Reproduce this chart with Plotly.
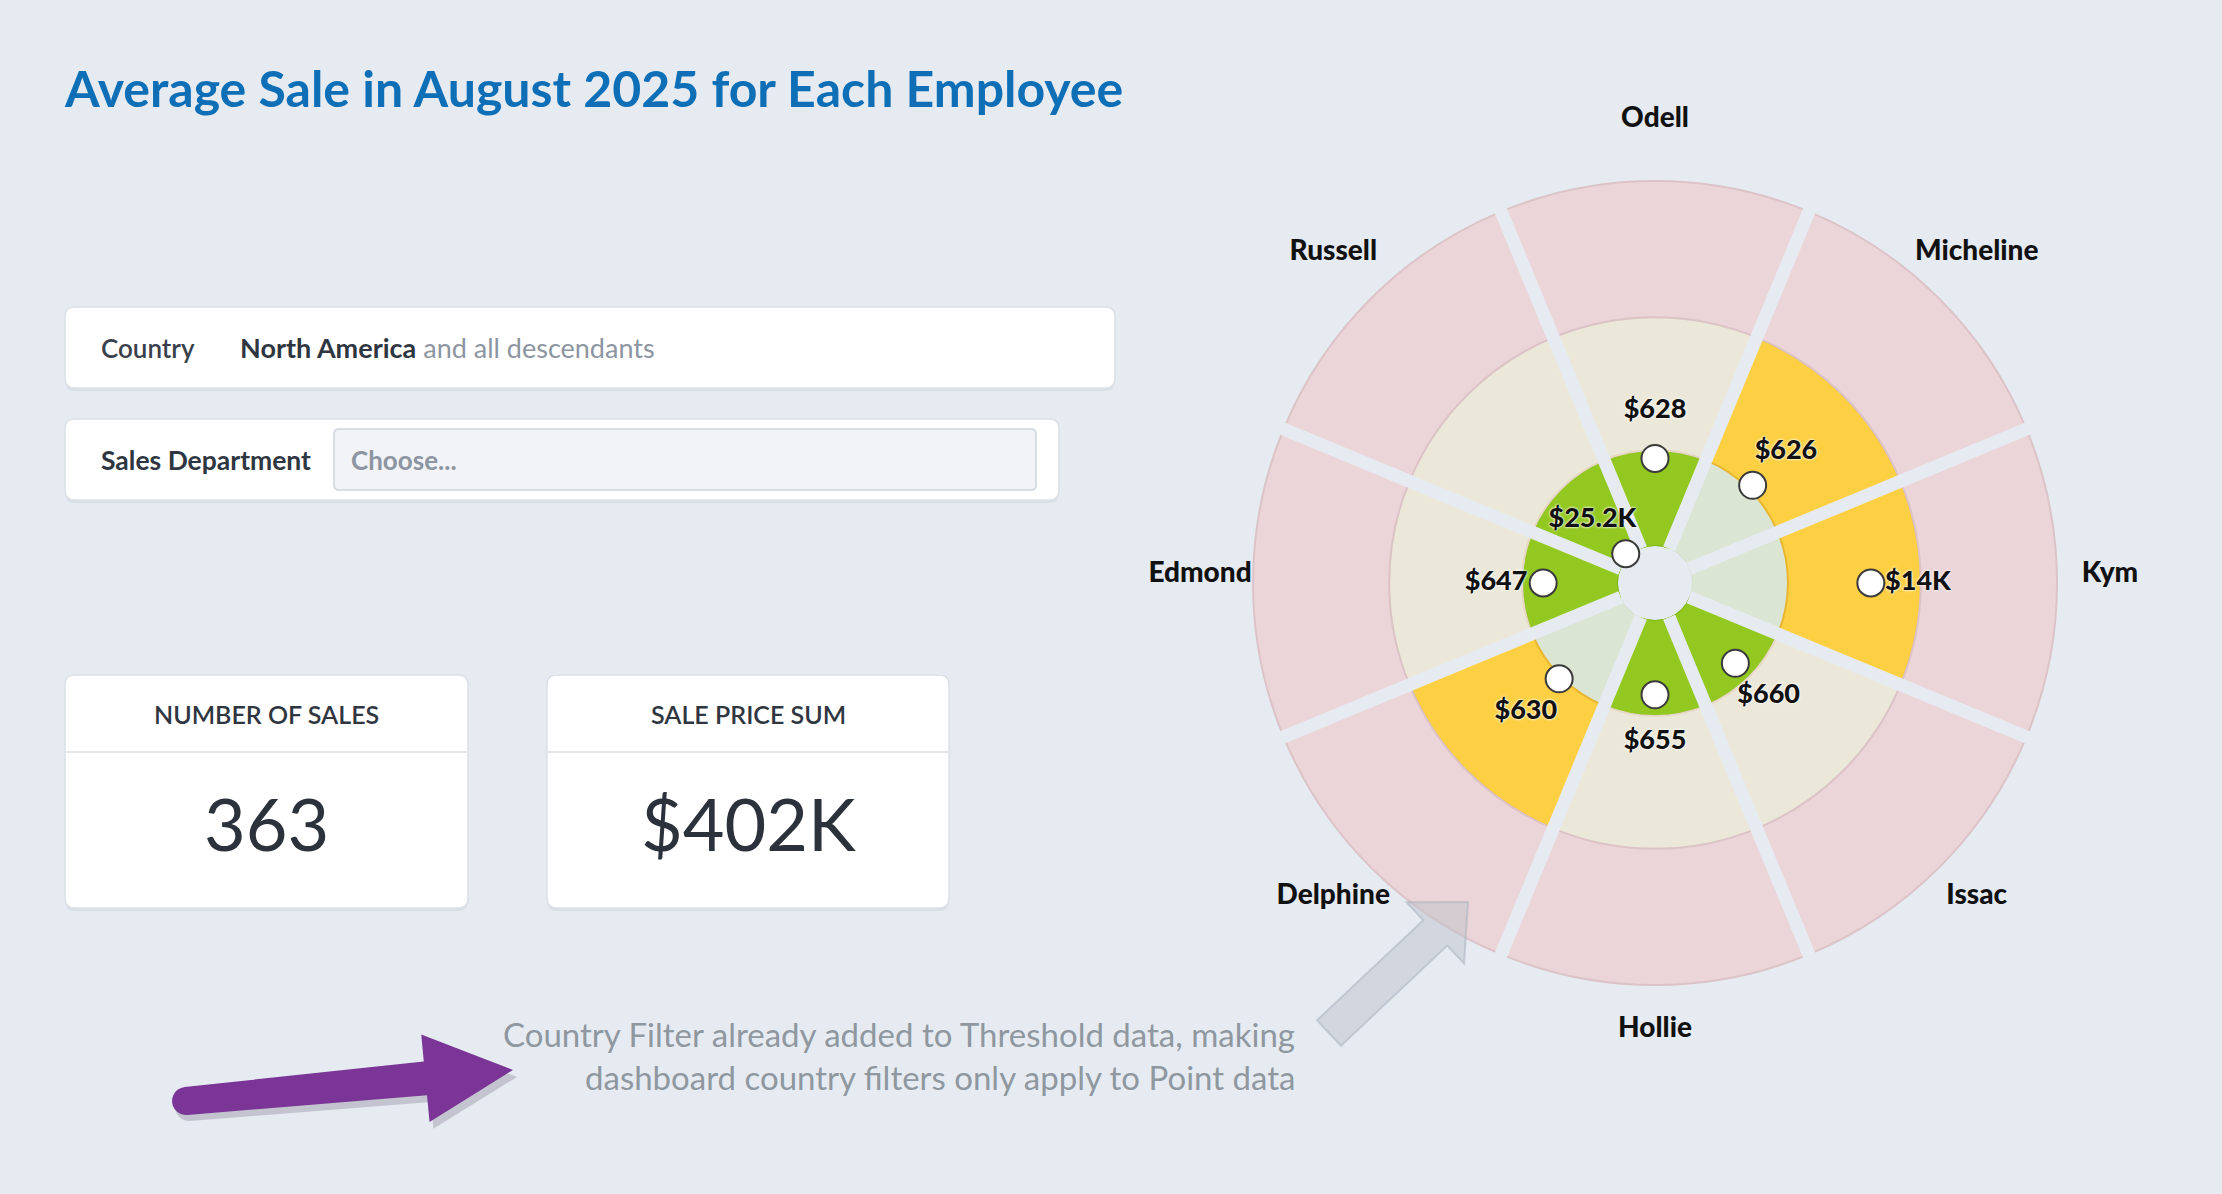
import math
import plotly.graph_objects as go

W, H = 2222, 1194
BG = "#e6ebf2"
FONT = "Lato"

# ---------------- data ----------------
employees = ["Odell", "Micheline", "Kym", "Issac", "Hollie", "Delphine", "Edmond", "Russell"]
sector_angle = [0, 45, 90, 135, 180, 225, 270, 315]
avg_sale = [628, 626, 14000, 660, 655, 630, 647, 25200]
# position of each point on the threshold scale (0-100)
point_score = [24.0, 27.7, 49.0, 21.0, 20.5, 27.0, 20.5, 1.2]
band_names = ["Green", "Yellow", "Red"]
band_upper = [26.3, 62.7, 100.0]

title_text = "Average Sale in August 2025 for Each Employee"
kpi_titles = ["NUMBER OF SALES", "SALE PRICE SUM"]
kpi_values = ["363", "$402K"]
note_lines = ["Country Filter already added to Threshold data, making",
              "dashboard country filters only apply to Point data"]

# ---------------- helpers ----------------
def X(px):
    return px / W

def Y(py):
    return 1 - py / H

def fmt_money(v):
    if v >= 1000:
        s = f"{v/1000:.1f}".rstrip("0").rstrip(".")
        return f"${s}K"
    return f"${v:.0f}"

def rrect(x0, y0, x1, y1, r):
    return (f"M {X(x0+r)},{Y(y0)} L {X(x1-r)},{Y(y0)} Q {X(x1)},{Y(y0)} {X(x1)},{Y(y0+r)} "
            f"L {X(x1)},{Y(y1-r)} Q {X(x1)},{Y(y1)} {X(x1-r)},{Y(y1)} "
            f"L {X(x0+r)},{Y(y1)} Q {X(x0)},{Y(y1)} {X(x0)},{Y(y1-r)} "
            f"L {X(x0)},{Y(y0+r)} Q {X(x0)},{Y(y0)} {X(x0+r)},{Y(y0)} Z")

def arrow_path(tail, tip, hw_tail, hw_neck, head_len, head_hw, round_tail=False):
    dx, dy = tip[0] - tail[0], tip[1] - tail[1]
    L = math.hypot(dx, dy)
    ux, uy = dx / L, dy / L
    nx, ny = -uy, ux
    bx, by = tip[0] - ux * head_len, tip[1] - uy * head_len
    pts = [
        (tail[0] + nx * hw_tail, tail[1] + ny * hw_tail),
        (bx + nx * hw_neck, by + ny * hw_neck),
        (bx + nx * head_hw, by + ny * head_hw),
        tip,
        (bx - nx * head_hw, by - ny * head_hw),
        (bx - nx * hw_neck, by - ny * hw_neck),
        (tail[0] - nx * hw_tail, tail[1] - ny * hw_tail),
    ]
    if round_tail:
        for k in range(1, 12):
            a = math.pi * k / 12
            cx = -nx * math.cos(a) - ux * math.sin(a)
            cy = -ny * math.cos(a) - uy * math.sin(a)
            pts.append((tail[0] + cx * hw_tail, tail[1] + cy * hw_tail))
    return "M " + " L ".join(f"{X(p[0])},{Y(p[1])}" for p in pts) + " Z"

# ---------------- polar geometry ----------------
CX, CY = 1655, 583
HOLE_PX, R100_PX, RMAX = 37, 402, 120
R = HOLE_PX + (R100_PX - HOLE_PX) * RMAX / 100
PX_PER_UNIT = (R100_PX - HOLE_PX) / 100

# ---------------- polar chart ----------------
band_on = ["#93c820", "#fdd043", "#e8505b"]
band_off = ["#dbe5d4", "#ebe8d9", "#ecd5d8"]
line_on = ["#82b51a", "#e9b62f", "#c94048"]
line_off = ["#d6e0cf", "#e6d8c4", "#dcc3c7"]

def band_of(score):
    for i, u in enumerate(band_upper):
        if score < u:
            return i
    return len(band_upper) - 1

active = [band_of(s) for s in point_score]

fig = go.Figure()

lower = 0.0
for b, name in enumerate(band_names):
    width = band_upper[b] - lower
    fig.add_trace(go.Barpolar(
        r=[width] * len(employees),
        theta=sector_angle,
        width=[45] * len(employees),
        name=name,
        marker=dict(
            color=[band_on[b] if a == b else band_off[b] for a in active],
            line=dict(color=[line_on[b] if a == b else line_off[b] for a in active], width=2),
        ),
        hoverinfo="skip",
        showlegend=False,
    ))
    lower = band_upper[b]

# gaps between sectors
gap_theta, gap_r = [], []
for a in sector_angle:
    gap_theta += [a + 22.5, a + 22.5, None]
    gap_r += [0, 101.5, None]
fig.add_trace(go.Scatterpolar(
    r=gap_r, theta=gap_theta, mode="lines",
    line=dict(color=BG, width=13), hoverinfo="skip", showlegend=False, cliponaxis=False,
))

# points
fig.add_trace(go.Scatterpolar(
    r=point_score, theta=sector_angle, mode="markers",
    marker=dict(size=27, color="white", line=dict(color="#3a3a3a", width=2)),
    text=[fmt_money(v) for v in avg_sale], hoverinfo="text",
    showlegend=False, cliponaxis=False,
))

# value labels pushed outward along each sector ray
LABEL_OFFSET = 12.9
fig.add_trace(go.Scatterpolar(
    r=[s + LABEL_OFFSET for s in point_score], theta=sector_angle, mode="text",
    text=[fmt_money(v) for v in avg_sale], textposition="middle center",
    textfont=dict(family=FONT, size=27, color="#111111", weight=900,
                  shadow="0px 0px 3px white, 0px 0px 2px white"),
    hoverinfo="skip", showlegend=False, cliponaxis=False,
))

# employee names: placed 455px out along each ray, lifted 8px
NAME_DIST, NAME_LIFT = 455, 8
name_r, name_theta = [], []
for a in sector_angle:
    rad = math.radians(a)
    sx = NAME_DIST * math.sin(rad)
    sy = -NAME_DIST * math.cos(rad) - NAME_LIFT
    name_r.append((math.hypot(sx, sy) - HOLE_PX) / PX_PER_UNIT)
    name_theta.append(math.degrees(math.atan2(sx, -sy)) % 360)
fig.add_trace(go.Scatterpolar(
    r=name_r, theta=name_theta, mode="text",
    text=employees, textposition="middle center",
    textfont=dict(family=FONT, size=28, color="#111111", weight=900),
    hoverinfo="skip", showlegend=False, cliponaxis=False,
))

fig.update_layout(
    width=W, height=H,
    margin=dict(l=0, r=0, t=0, b=0),
    paper_bgcolor=BG, plot_bgcolor=BG,
    font=dict(family=FONT),
    polar=dict(
        domain=dict(x=[X(CX - R), X(CX + R)], y=[Y(CY + R), Y(CY - R)]),
        hole=HOLE_PX / R,
        bgcolor="rgba(0,0,0,0)",
        barmode="stack",
        radialaxis=dict(range=[0, RMAX], visible=False),
        angularaxis=dict(visible=False, rotation=90, direction="clockwise"),
    ),
)

# ---------------- dashboard decoration ----------------
shapes = []
anns = []

def card(x0, y0, x1, y1, r=10):
    shapes.append(dict(type="path", xref="paper", yref="paper", layer="below",
                       path=rrect(x0, y0 + 3, x1, y1 + 3, r),
                       fillcolor="rgba(60,70,90,0.07)", line=dict(width=0)))
    shapes.append(dict(type="path", xref="paper", yref="paper", layer="below",
                       path=rrect(x0, y0, x1, y1, r),
                       fillcolor="white", line=dict(color="#dce1e8", width=1.5)))

card(65, 307, 1115, 388)
card(65, 419, 1059, 500)
shapes.append(dict(type="path", xref="paper", yref="paper", layer="below",
                   path=rrect(334, 429, 1036, 490, 5),
                   fillcolor="#f1f3f6", line=dict(color="#cfd5dd", width=1.5)))

kpi_x = [(65, 468), (547, 949)]
for (x0, x1), t, v in zip(kpi_x, kpi_titles, kpi_values):
    card(x0, 675, x1, 908)
    shapes.append(dict(type="line", xref="paper", yref="paper", layer="below",
                       x0=X(x0), x1=X(x1), y0=Y(752), y1=Y(752),
                       line=dict(color="#e3e7ed", width=2)))
    cx = (x0 + x1) / 2
    anns.append(dict(x=X(cx), y=Y(714), text=t, showarrow=False, xanchor="center", yanchor="middle",
                     font=dict(family=FONT, size=25, color="#2f3640", weight=600)))
    anns.append(dict(x=X(cx), y=Y(823), text=v, showarrow=False, xanchor="center", yanchor="middle",
                     font=dict(family=FONT, size=72, color="#2b323c")))

anns.append(dict(x=X(62), y=Y(88), text=title_text, showarrow=False, xanchor="left", yanchor="middle",
                 font=dict(family=FONT, size=50, color="#0e6fb7", weight="bold")))

anns.append(dict(x=X(99), y=Y(348), text="Country", showarrow=False, xanchor="left", yanchor="middle",
                 font=dict(family=FONT, size=26, color="#3a414c", weight=600)))
anns.append(dict(x=X(238), y=Y(348),
                 text="<b>North America</b> <span style='color:#8c95a1'>and all descendants</span>",
                 showarrow=False, xanchor="left", yanchor="middle",
                 font=dict(family=FONT, size=27, color="#2e3641")))
anns.append(dict(x=X(99), y=Y(460), text="<b>Sales Department</b>", showarrow=False,
                 xanchor="left", yanchor="middle",
                 font=dict(family=FONT, size=26.5, color="#2e3641")))
anns.append(dict(x=X(349), y=Y(460), text="Choose...", showarrow=False, xanchor="left", yanchor="middle",
                 font=dict(family=FONT, size=26, color="#8c95a1", weight=700)))

for i, line in enumerate(note_lines):
    anns.append(dict(x=X(1297), y=Y(1034 + 43 * i), text=line, showarrow=False,
                     xanchor="right", yanchor="middle",
                     font=dict(family=FONT, size=33, color="#8f979f")))

shapes.append(dict(type="path", xref="paper", yref="paper", layer="above",
                   path=arrow_path((189, 1107), (517, 1077), 14, 17, 88, 44, round_tail=True),
                   fillcolor="rgba(40,20,50,0.18)", line=dict(width=0)))
shapes.append(dict(type="path", xref="paper", yref="paper", layer="above",
                   path=arrow_path((186, 1101), (513, 1070), 14, 17, 88, 44, round_tail=True),
                   fillcolor="#7a3597", line=dict(width=0)))

shapes.append(dict(type="path", xref="paper", yref="paper", layer="above",
                   path=arrow_path((1329, 1033), (1468, 902), 17.5, 17.5, 45, 42),
                   fillcolor="rgba(190,196,204,0.5)", line=dict(color="rgba(170,178,190,0.55)", width=2)))

fig.update_layout(shapes=shapes, annotations=anns)

fig.write_html("out.html")
